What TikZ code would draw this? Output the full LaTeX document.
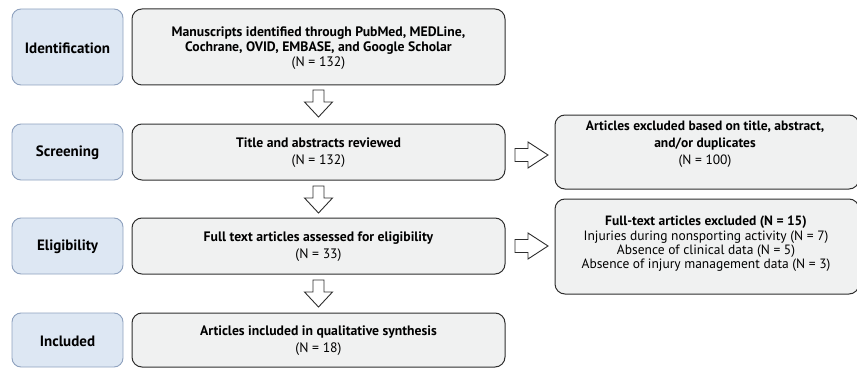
\documentclass[tikz,border=0pt]{standalone}
\usepackage{fontspec}
\setmainfont{PT Sans}
\usetikzlibrary{calc}
\definecolor{stagefill}{HTML}{DDE7F3}
\definecolor{stageline}{HTML}{8FA2BF}
\definecolor{boxfill}{HTML}{F0F1F1}
\definecolor{boxline}{HTML}{2E2E2E}
\tikzset{
  stage/.style={draw=stageline, fill=stagefill, line width=0.9pt, rounded corners=9pt},
  stagetext/.style={font=\fontsize{15}{17}\selectfont\bfseries, inner sep=0pt},
  mainbox/.style={draw=boxline, fill=boxfill, line width=1pt, rounded corners=10pt},
  boxtext/.style={align=center, font=\fontsize{13.7}{15}\selectfont, inner sep=0pt},
  fatarrow/.style={draw=boxline, fill=white, line width=0.9pt, line join=miter},
}
\newcommand{\downarr}[1]{%
  \draw[fatarrow] ($(#1)+(-5.5,0)$) -- ++(11,0) -- ++(0,12) -- ++(8.5,0) -- ($(#1)+(0,27)$)
    -- ($(#1)+(-14,12)$) -- ++(8.5,0) -- cycle;}
\newcommand{\rightarr}[1]{%
  \draw[fatarrow] ($(#1)+(0,-6.5)$) -- ++(13,0) -- ++(0,-6.5) -- ($(#1)+(33,0)$)
    -- ($(#1)+(13,13)$) -- ++(0,-6.5) -- ++(-13,0) -- cycle;}
\begin{document}
\begin{tikzpicture}[x=1pt,y=-1pt]
\useasboundingbox (0,0) rectangle (857,369);
% stage boxes
\draw[stage] (12,9) rectangle (123,85);
\node[stagetext] (s1) at (67.5,48) {Identification};
\draw[stage] (12,124) rectangle (123,180);
\node[stagetext] (s2) at (67.5,153) {Screening};
\draw[stage] (12,218) rectangle (123,274);
\node[stagetext] (s3) at (67.5,247) {Eligibility};
\draw[stage] (12,313) rectangle (123,367);
\node[stagetext] (s4) at (67.5,341) {Included};
% main boxes
\draw[mainbox] (132,9) rectangle (505,85);
\node[boxtext] (m1) at (318.5,48)
  {\textbf{Manuscripts identified through PubMed, MEDLine,}\\\textbf{Cochrane, OVID, EMBASE, and Google Scholar}\\(N = 132)};
\draw[mainbox] (132,124) rectangle (505,180);
\node[boxtext, font=\fontsize{13.7}{17}\selectfont] (m2) at (318.5,153)
  {\textbf{Title and abstracts reviewed}\\(N = 132)};
\draw[mainbox] (132,218) rectangle (505,274);
\node[boxtext, font=\fontsize{13.7}{17}\selectfont] (m3) at (318.5,247)
  {\textbf{Full text articles assessed for eligibility}\\(N = 33)};
\draw[mainbox] (132,313) rectangle (505,367);
\node[boxtext, font=\fontsize{13.7}{17}\selectfont] (m4) at (318.5,341)
  {\textbf{Articles included in qualitative synthesis}\\(N = 18)};
% right boxes
\draw[mainbox] (555,115) rectangle (859,189);
\node[boxtext, font=\fontsize{13.5}{17}\selectfont] (r1) at (705,144)
  {\textbf{Articles excluded based on title, abstract,}\\\textbf{and/or duplicates}\\(N = 100)};
\draw[mainbox] (555,199) rectangle (859,294);
\node[boxtext, font=\fontsize{13.5}{14.3}\selectfont] (r2) at (706,244)
  {\textbf{Full-text articles excluded (N = 15)}\\Injuries during nonsporting activity (N = 7)\\Absence of clinical data (N = 5)\\Absence of injury management data (N = 3)};
% arrows
\coordinate (a1) at (318.5,90);
\coordinate (a2) at (318.5,186);
\coordinate (a3) at (318.5,280);
\coordinate (b1) at (515,155);
\coordinate (b2) at (515,246);
\downarr{a1}
\downarr{a2}
\downarr{a3}
\rightarr{b1}
\rightarr{b2}
\end{tikzpicture}
\end{document}
